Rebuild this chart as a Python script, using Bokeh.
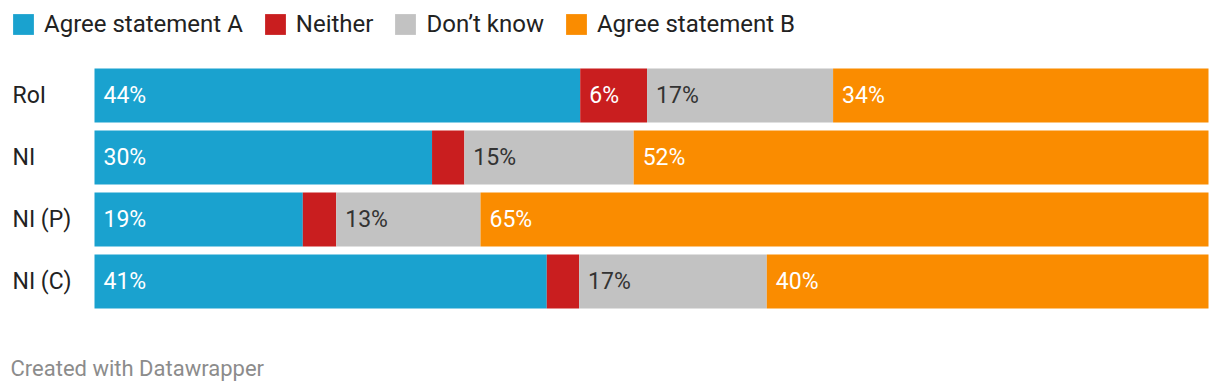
import numpy as np
from bokeh.plotting import figure
from bokeh.models import ColumnDataSource, Range1d, Legend, LegendItem, Label
from bokeh.core.properties import value
from bokeh.embed import file_html
from bokeh.resources import INLINE

# ---- data ----
categories = ["RoI", "NI", "NI (P)", "NI (C)"]
series_names = ["Agree statement A", "Neither", "Don\u2019t know", "Agree statement B"]
agree_a = [43.6, 30.3, 18.7, 40.6]
neither = [6.0, 2.9, 3.0, 2.9]
dont_know = [16.7, 15.2, 12.95, 16.85]
agree_b = [33.7, 51.6, 65.35, 39.65]
label_a = ["44%", "30%", "19%", "41%"]
label_neither = ["6%", "", "", ""]
label_dk = ["17%", "15%", "13%", "17%"]
label_b = ["34%", "52%", "65%", "40%"]

colors = ["#1aa2cf", "#c91e1f", "#c2c2c2", "#fa8c00"]
text_colors = ["#ffffff", "#ffffff", "#333333", "#ffffff"]

# ---- layout constants (pixels) ----
W, H = 1220, 386
BAR_L, BAR_R = 94.0, 1208.0
PITCH = 62.0
BAR_PX = 54.0
FIRST_CENTER = 95.0
FONT = "Roboto"

pxu = (BAR_R - BAR_L) / 100.0
n = len(categories)
ypos = np.arange(n, 0, -1).astype(float)  # RoI at top
y_top = n + FIRST_CENTER / PITCH
y_bot = n - (H - FIRST_CENTER) / PITCH

p = figure(width=W, height=H, output_backend="svg", toolbar_location=None,
           x_range=Range1d(-BAR_L / pxu, 100 + (W - BAR_R) / pxu),
           y_range=Range1d(y_bot, y_top),
           min_border=0, min_border_left=0, min_border_right=0,
           min_border_top=0, min_border_bottom=0)
p.axis.visible = False
p.grid.visible = False
p.outline_line_color = None
p.background_fill_color = "white"
p.border_fill_color = "white"

vals = np.array([agree_a, neither, dont_know, agree_b])
labels = [label_a, label_neither, label_dk, label_b]
lefts = np.vstack([np.zeros(n), np.cumsum(vals, axis=0)[:-1]])
rights = np.cumsum(vals, axis=0)

items = []
for i in range(4):
    src = ColumnDataSource(dict(y=ypos, left=lefts[i], right=rights[i], lab=labels[i]))
    r = p.hbar(y="y", left="left", right="right", height=BAR_PX / PITCH, source=src,
               fill_color=colors[i], line_color=None)
    items.append(LegendItem(label=series_names[i], renderers=[r]))
    p.text(x="left", y="y", text="lab", source=src, x_offset=9,
           text_font=value(FONT), text_font_size="23px", text_color=text_colors[i],
           text_baseline="middle", text_align="left")

# category labels
cat_src = ColumnDataSource(dict(x=np.zeros(n), y=ypos, t=categories))
p.text(x="x", y="y", text="t", source=cat_src, x_offset=-82,
       text_font=value(FONT), text_font_size="23px", text_color="#222222",
       text_baseline="middle", text_align="left")

legend = Legend(items=items, orientation="horizontal", location=(10, H - 38),
                glyph_width=26, glyph_height=26, label_height=26, label_standoff=8,
                spacing=19, padding=0, margin=0,
                label_text_font=FONT, label_text_font_size="24px",
                label_text_color="#222222", label_text_baseline="middle",
                border_line_color=None, background_fill_alpha=0)
p.add_layout(legend)

p.add_layout(Label(x=0, y=y_bot + 18 / PITCH, x_offset=-84, text="Created with Datawrapper",
                   text_font=FONT, text_font_size="22px", text_color="#8c8c8c",
                   text_baseline="alphabetic", text_align="left"))

open("out.html", "w").write(file_html(p, INLINE))
